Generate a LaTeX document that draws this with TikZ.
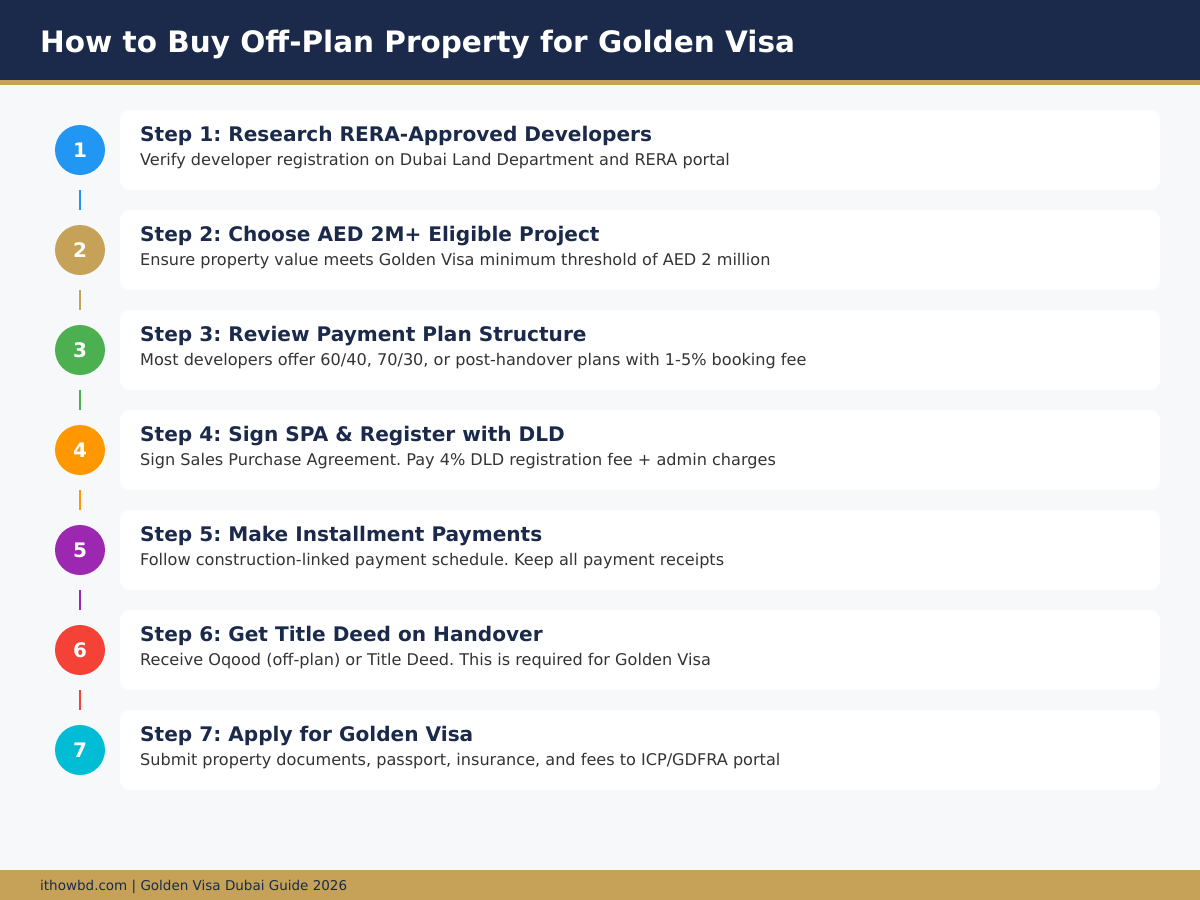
\documentclass[tikz,border=0pt]{standalone}
\usepackage{fontspec}
\setmainfont{DejaVu Sans}
\usetikzlibrary{calc}
\frenchspacing
\definecolor{navy}{HTML}{1B2A4A}
\definecolor{gold}{HTML}{C5A258}
\definecolor{bg}{HTML}{F7F8FA}
\definecolor{desc}{HTML}{333333}
\definecolor{cA}{HTML}{2196F3}
\definecolor{cB}{HTML}{C5A258}
\definecolor{cC}{HTML}{4CAF50}
\definecolor{cD}{HTML}{FF9800}
\definecolor{cE}{HTML}{9C27B0}
\definecolor{cF}{HTML}{F44336}
\definecolor{cG}{HTML}{00BCD4}
\tikzset{
  card/.style={fill=white, rounded corners=10pt, draw=none},
  stepnum/.style={circle, minimum size=50pt, inner sep=0pt, text=white, font=\bfseries\fontsize{20}{20}\selectfont},
  steptitle/.style={anchor=base west, inner sep=0pt, text=navy, font=\frenchspacing\bfseries\fontsize{20.1}{20}\selectfont},
  stepdesc/.style={anchor=base west, inner sep=0pt, text=desc, font=\frenchspacing\fontsize{16.1}{16}\selectfont},
  link/.style={line width=2pt},
}
\begin{document}
\begin{tikzpicture}[x=1pt,y=-1pt]
\useasboundingbox (0,0) rectangle (1200,900);
\fill[bg] (0,0) rectangle (1200,900);
\fill[navy] (0,0) rectangle (1200,80);
\fill[gold] (0,80) rectangle (1200,85);
\node[anchor=base west, inner sep=0pt, text=white, font=\bfseries\fontsize{29.5}{30}\selectfont] (title) at (40,52) {How to Buy Off-Plan Property for Golden Visa};
\fill[gold] (0,870) rectangle (1200,900);
\node[anchor=base west, inner sep=0pt, text=navy, font=\fontsize{13.5}{14}\selectfont] (footer) at (40,890) {ithowbd.com | Golden Visa Dubai Guide 2026};
\foreach \i/\c/\t/\d in {
 1/cA/{Step 1: Research RERA-Approved Developers}/{Verify developer registration on Dubai Land Department and RERA portal},
 2/cB/{Step 2: Choose AED 2M+ Eligible Project}/{Ensure property value meets Golden Visa minimum threshold of AED 2 million},
 3/cC/{Step 3: Review Payment Plan Structure}/{Most developers offer 60/40, 70/30, or post-handover plans with 1-5\% booking fee},
 4/cD/{Step 4: Sign SPA \& Register with DLD}/{Sign Sales Purchase Agreement. Pay 4\% DLD registration fee + admin charges},
 5/cE/{Step 5: Make Installment Payments}/{Follow construction-linked payment schedule. Keep all payment receipts},
 6/cF/{Step 6: Get Title Deed on Handover}/{Receive Oqood (off-plan) or Title Deed. This is required for Golden Visa},
 7/cG/{Step 7: Apply for Golden Visa}/{Submit property documents, passport, insurance, and fees to ICP/GDFRA portal}}{
  \pgfmathsetmacro{\top}{10+100*\i}
  \fill[card] (120,\top) rectangle (1160,\top+80);
  \node[stepnum, fill=\c] (n\i) at (80,\top+40) {\i};
  \node[steptitle] (t\i) at (140,\top+31) {\t};
  \node[stepdesc] (d\i) at (140,\top+55) {\d};
}
\foreach \i/\c in {1/cA,2/cB,3/cC,4/cD,5/cE,6/cF}{
  \pgfmathtruncatemacro{\j}{\i+1}
  \coordinate (s\i) at ($(n\i.south)+(0,15)$);
  \coordinate (e\i) at ($(n\j.north)+(0,-15)$);
  \draw[link, draw=\c] (s\i) -- (e\i);
}
\end{tikzpicture}
\end{document}
